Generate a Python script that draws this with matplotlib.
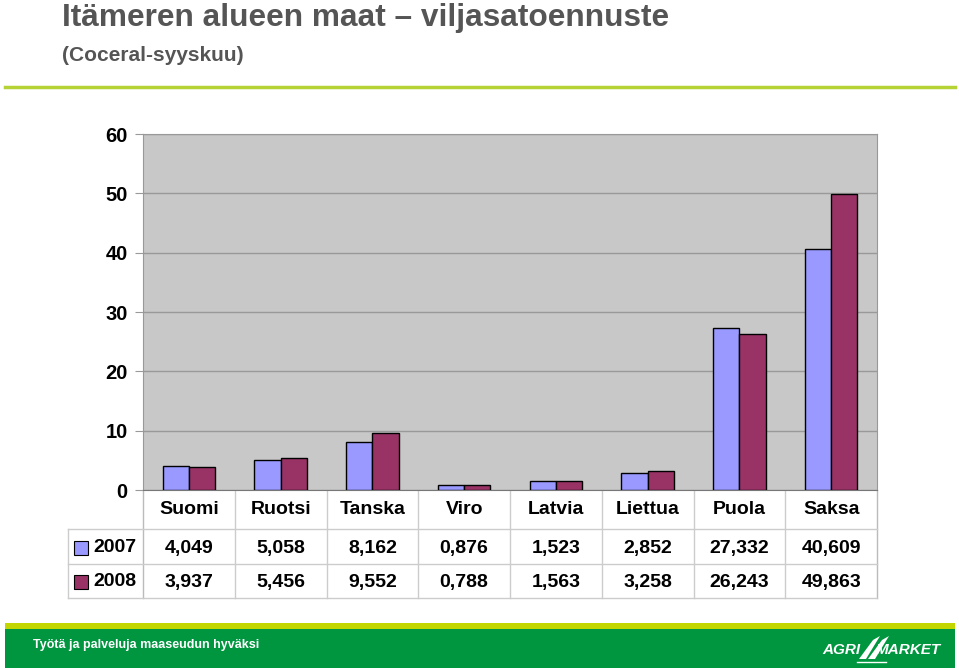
import matplotlib.pyplot as plt
import matplotlib.patches as mpatches
import numpy as np

plt.rcParams['font.family'] = ['Liberation Sans', 'DejaVu Sans']

# data
maat = ['Suomi', 'Ruotsi', 'Tanska', 'Viro', 'Latvia', 'Liettua', 'Puola', 'Saksa']
vuodet = ['2007', '2008']
sato_2007 = [4.049, 5.058, 8.162, 0.876, 1.523, 2.852, 27.332, 40.609]
sato_2008 = [3.937, 5.456, 9.552, 0.788, 1.563, 3.258, 26.243, 49.863]
y_ticks = [0, 10, 20, 30, 40, 50, 60]

varit = ['#9999FF', '#993366']
harmaa_teksti = '#555555'

fig = plt.figure(figsize=(9.59, 6.70), dpi=100)
W, H = 959, 670

# --- otsikot ---
fig.text(62 / W, 1 - 26 / H, 'Itämeren alueen maat – viljasatoennuste', fontsize=22.8,
         fontweight='bold', color=harmaa_teksti, ha='left', va='baseline')
fig.text(62 / W, 1 - 61 / H, '(Coceral-syyskuu)', fontsize=15,
         fontweight='bold', color=harmaa_teksti, ha='left', va='baseline')
fig.add_artist(plt.Line2D([5 / W, 955 / W], [1 - 87 / H, 1 - 87 / H], color='#B5D334', lw=2.5))

# --- kaavio ---
ax = fig.add_axes([143 / W, 1 - 490 / H, 734 / W, 356 / H])
ax.set_facecolor('#C8C8C8')
x = np.arange(len(maat))
lev = 0.286
ax.bar(x - lev / 2, sato_2007, lev, color=varit[0], edgecolor='black', linewidth=1, zorder=3)
ax.bar(x + lev / 2, sato_2008, lev, color=varit[1], edgecolor='black', linewidth=1, zorder=3)
ax.set_xlim(-0.5, len(maat) - 0.5)
ax.set_ylim(0, 60)
ax.set_yticks(y_ticks)
ax.set_yticklabels([str(t) for t in y_ticks], fontsize=14.5, fontweight='bold')
ax.tick_params(axis='y', length=6, color='#999999', pad=5)
ax.set_xticks([])
ax.grid(axis='y', color='#999999', lw=1, zorder=1)
for s in ['left', 'top', 'right']:
    ax.spines[s].set_color('#999999')
ax.spines['bottom'].set_color('#777777')

# --- taulukko akselin alla ---
tr = ax.get_xaxis_transform()
px = lambda y: (490 - y) / 356   # pikselirivi -> akselin osuus
viiva = '#CCCCCC'
x_vasen = -0.5 - 75 / 91.75
for k in range(len(maat) + 1):
    ax.plot([k - 0.5, k - 0.5], [0, px(598)], transform=tr, color=viiva if 0 < k < len(maat) else '#BBBBBB',
            lw=1, clip_on=False)
for yy in [529, 564, 598]:
    ax.plot([x_vasen, len(maat) - 0.5], [px(yy), px(yy)], transform=tr, color=viiva, lw=1, clip_on=False)
ax.plot([x_vasen, x_vasen], [px(529), px(598)], transform=tr, color=viiva, lw=1, clip_on=False)

for i, m in enumerate(maat):
    ax.text(i, px(509), m, transform=tr, ha='center', va='center', fontsize=14, fontweight='bold')

rivit_y = [548, 582]
for r, (arvot, v) in enumerate(zip([sato_2007, sato_2008], vuodet)):
    yy = px(rivit_y[r])
    for i, a in enumerate(arvot):
        ax.text(i, yy, f'{a:.3f}'.replace('.', ','), transform=tr, ha='center', va='center',
                fontsize=14, fontweight='bold')
    ax.text(-1.045, yy, v, transform=tr, ha='left', va='center', fontsize=14, fontweight='bold')
    # selitteen ruutu
    fig.add_artist(mpatches.Rectangle((74 / W, 1 - (rivit_y[r] + 7) / H), 14 / W, 14 / H,
                                      facecolor=varit[r], edgecolor='black', lw=0.8))

# --- alapalkki ---
fig.add_artist(mpatches.Rectangle((5 / W, 1 - 629 / H), 950 / W, 6 / H, facecolor='#C4D600', lw=0))
fig.add_artist(mpatches.Rectangle((5 / W, 1 - 668 / H), 950 / W, 39 / H, facecolor='#00963F', lw=0))
fig.text(33 / W, 1 - 645 / H, 'Työtä ja palveluja maaseudun hyväksi', color='white', fontsize=9,
         fontweight='bold', ha='left', va='center')
fig.text(822 / W, 1 - 650 / H, 'AGRI', color='white', fontsize=11, fontweight='bold',
         style='italic', ha='left', va='center')
fig.text(941 / W, 1 - 650 / H, 'MARKET', color='white', fontsize=11, fontweight='bold',
         style='italic', ha='right', va='center')
# logon siivet
for dx in [0, 9]:
    fig.add_artist(mpatches.Polygon([((859 + dx) / W, 1 - 659 / H), ((866 + dx) / W, 1 - 659 / H),
                                     ((880 + dx) / W, 1 - 636 / H), ((873 + dx) / W, 1 - 640 / H)],
                                    closed=True, facecolor='white', lw=0))
fig.add_artist(plt.Line2D([857 / W, 886 / W], [1 - 662 / H, 1 - 662 / H], color='white', lw=1))

fig.savefig('out.png', dpi=100)
